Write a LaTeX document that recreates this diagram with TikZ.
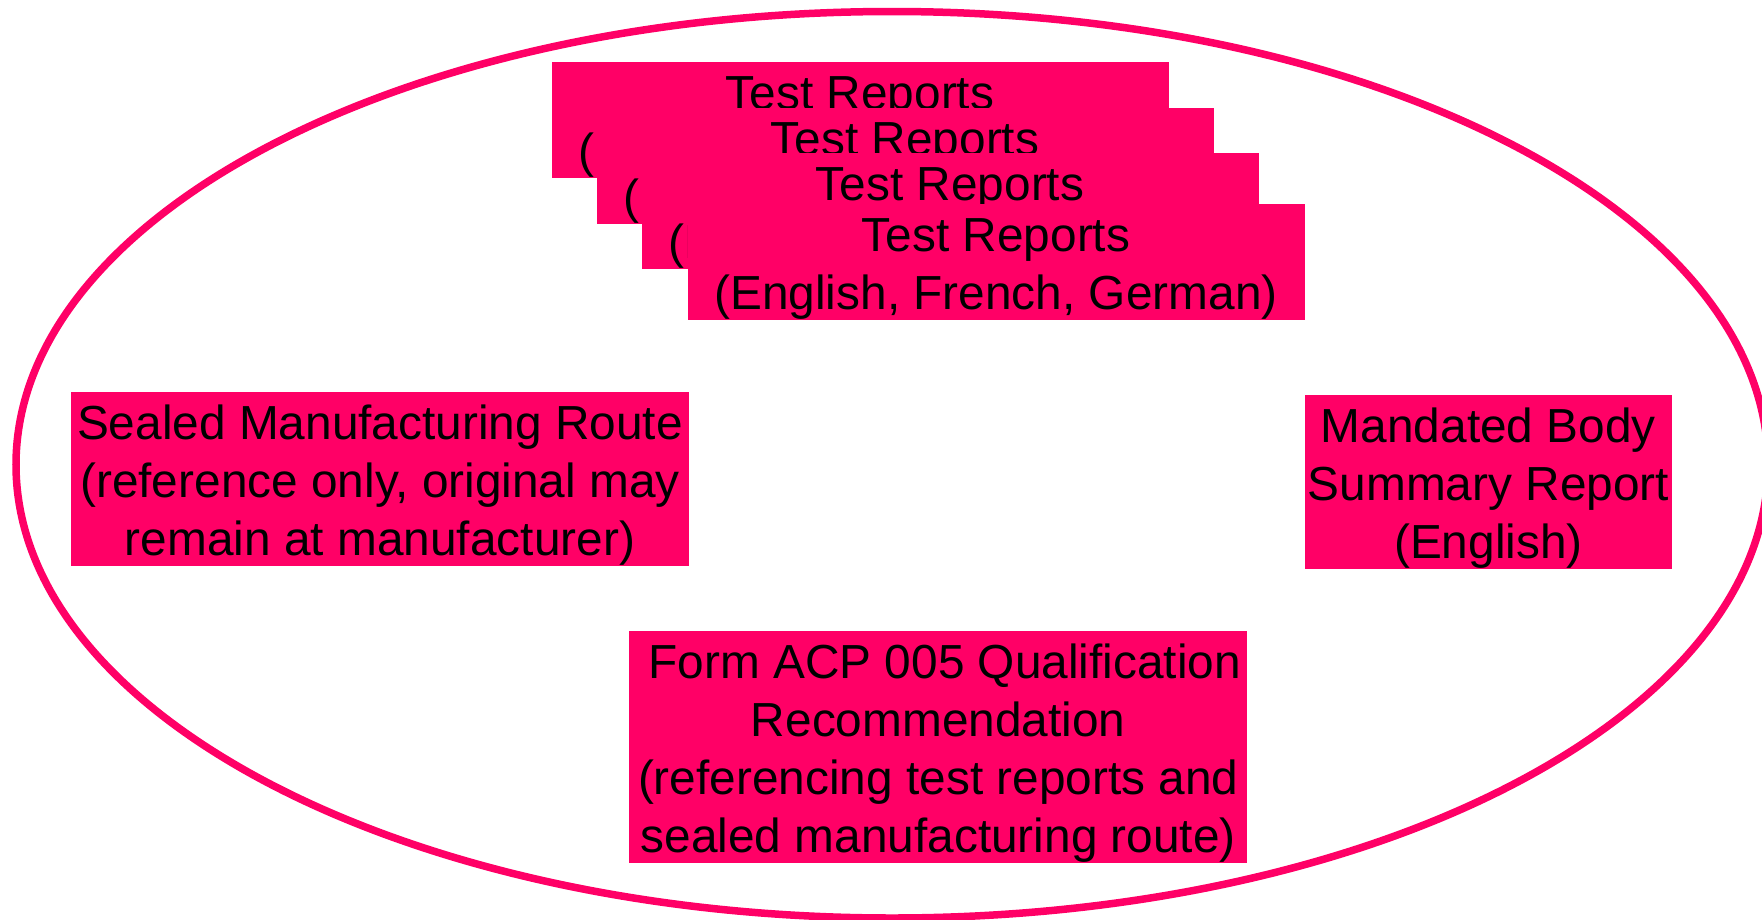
\documentclass[tikz,border=0pt]{standalone}
\usepackage{fontspec}
\setmainfont{Liberation Sans}
\definecolor{hot}{RGB}{255,0,102}
\newcommand{\lowtext}[1]{\raisebox{-7pt}[\height][\depth]{\begin{tabular}{@{}c@{}}#1\end{tabular}}}
\begin{document}
\begin{tikzpicture}[x=1pt,y=-1pt,
  docbox/.style={fill=hot, inner sep=0pt, text=black,
    font=\fontsize{47.8}{58}\selectfont, anchor=center},
  trbox/.style={docbox, minimum width=617pt, minimum height=116pt}]
\useasboundingbox (0,0) rectangle (1762,919);
\draw[hot, line width=7.5pt] (892,464.75) ellipse [x radius=876, y radius=453.25];
\node[trbox] (tr1) at (860,119.5) {\lowtext{Test Reports\\(English, French, German)}};
\node[trbox] (tr2) at (905,166) {\lowtext{Test Reports\\(English, French, German)}};
\node[trbox] (tr3) at (950,211) {\lowtext{Test Reports\\(English, French, German)}};
\node[trbox] (tr4) at (996,261.5) {\lowtext{Test Reports\\(English, French, German)}};
\node[docbox, minimum width=618pt, minimum height=173pt] (smr) at (380,478.7)
  {\lowtext{Sealed Manufacturing Route\\(reference only, original may\\remain at manufacturer)}};
\node[docbox, minimum width=367.5pt, minimum height=174pt] (mbs) at (1488.4,481.5)
  {\lowtext{Mandated Body\\Summary Report\\(English)}};
\node[docbox, minimum width=618pt, minimum height=230pt] (acp) at (938.3,746.7)
  {\lowtext{\hspace*{13pt}Form ACP 005 Qualification\\Recommendation\\(referencing test reports and\\sealed manufacturing route)}};
\end{tikzpicture}
\end{document}
